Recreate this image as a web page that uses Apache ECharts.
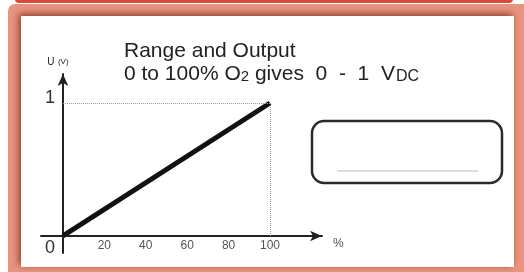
<!DOCTYPE html>
<html>
<head>
<meta charset="utf-8">
<title>Range and Output</title>
<script src="https://cdn.jsdelivr.net/npm/echarts@6/dist/echarts.min.js"></script>
<style>
  html, body { margin: 0; padding: 0; background: #fff; }
  #chart { width: 524px; height: 272px; }
</style>
</head>
<body>
<div id="chart"></div>
<script>
// O2 percentage vs output voltage
var oxygenPct = [0, 100];
var outputVolt = [0, 1];
var xTickLabels = [20, 40, 60, 80, 100];
var yTickLabels = [0, 1];

var chart = echarts.init(document.getElementById('chart'));

var lineData = oxygenPct.map(function (p, i) { return [p, outputVolt[i]]; });
var last = lineData.length - 1;

chart.setOption({
  animation: false,
  textStyle: { fontFamily: 'Liberation Sans, Arial, sans-serif' },
  title: {
    left: 124,
    top: 40,
    padding: 0,
    text: '{a|Range and Output}\n{a|0 to 100% O}{s|2}{a| gives  0  -  1  V}{d|DC}',
    textStyle: {
      rich: {
        a: { fontSize: 21, fontWeight: 'normal', color: '#222', lineHeight: 23 },
        s: { fontSize: 15, fontWeight: 'normal', color: '#222', lineHeight: 23, padding: [5, 0, 0, 0] },
        d: { fontSize: 16, fontWeight: 'normal', color: '#222', lineHeight: 23, padding: [4, 0, 0, 1] }
      }
    }
  },
  grid: { left: 41, right: 202, top: 74, bottom: 19 },
  xAxis: {
    type: 'value',
    min: -10.6,
    max: 125.1,
    name: '%',
    nameLocation: 'end',
    nameGap: 11,
    nameTextStyle: { color: '#555', fontSize: 12, verticalAlign: 'top', padding: [2, 0, 0, 0] },
    axisLine: {
      onZero: true,
      symbol: ['none', 'arrow'],
      symbolSize: [8, 12],
      lineStyle: { color: '#222', width: 2 }
    },
    axisTick: { show: false },
    splitLine: { show: false },
    axisLabel: {
      customValues: xTickLabels,
      color: '#555',
      fontSize: 12,
      margin: -13
    }
  },
  yAxis: {
    type: 'value',
    min: -0.128,
    max: 1.218,
    name: '{u|U} {v|(V)}',
    nameLocation: 'end',
    nameGap: 12,
    nameTextStyle: {
      align: 'center',
      verticalAlign: 'middle',
      padding: [0, 10, 0, 0],
      rich: {
        u: { fontSize: 10, color: '#222' },
        v: { fontSize: 8, color: '#222' }
      }
    },
    axisLine: {
      onZero: true,
      symbol: ['none', 'arrow'],
      symbolSize: [8, 12],
      lineStyle: { color: '#222', width: 2 }
    },
    axisTick: { show: false },
    splitLine: { show: false },
    axisLabel: {
      customValues: yTickLabels,
      margin: -14,
      formatter: function (v) { return v === 0 ? '{z|0}' : '{o|' + v + '}'; },
      rich: {
        z: { fontSize: 18, color: '#333', padding: [24, 0, 0, 0] },
        o: { fontSize: 18, color: '#333', padding: [0, 0, 10, 0] }
      }
    }
  },
  series: [{
    type: 'line',
    data: lineData,
    symbol: 'none',
    lineStyle: { color: '#111', width: 5 },
    z: 3,
    markLine: {
      silent: true,
      symbol: 'none',
      label: { show: false },
      lineStyle: { color: '#999', type: 'dotted', width: 1 },
      data: [
        [{ coord: [0, lineData[last][1]] }, { coord: lineData[last] }],
        [{ coord: lineData[last] }, { coord: [lineData[last][0], 0] }]
      ]
    }
  }],
  graphic: [
    // top red strip
    { type: 'rect', z: -10, shape: { x: 15, y: -8, width: 498, height: 11, r: 4 },
      style: { fill: '#d8493c' } },
    // salmon frame
    { type: 'rect', z: -9, shape: { x: 8, y: 4, width: 530, height: 280, r: 7 },
      style: { fill: '#e8957f' } },
    // white panel
    { type: 'rect', z: -8, shape: { x: 21, y: 16, width: 493, height: 251 },
      style: { fill: '#fff', shadowBlur: 7, shadowOffsetX: -2, shadowOffsetY: -2,
        shadowColor: 'rgba(110,30,15,0.75)' } },
    // rounded display box
    { type: 'rect', shape: { x: 312, y: 121, width: 190, height: 62, r: 12 },
      style: { fill: 'none', stroke: '#2a2a2a', lineWidth: 2.5 } },
    { type: 'line', shape: { x1: 337, y1: 171, x2: 478, y2: 171 },
      style: { stroke: '#bbb', lineWidth: 1 } }
  ]
});
</script>
</body>
</html>
